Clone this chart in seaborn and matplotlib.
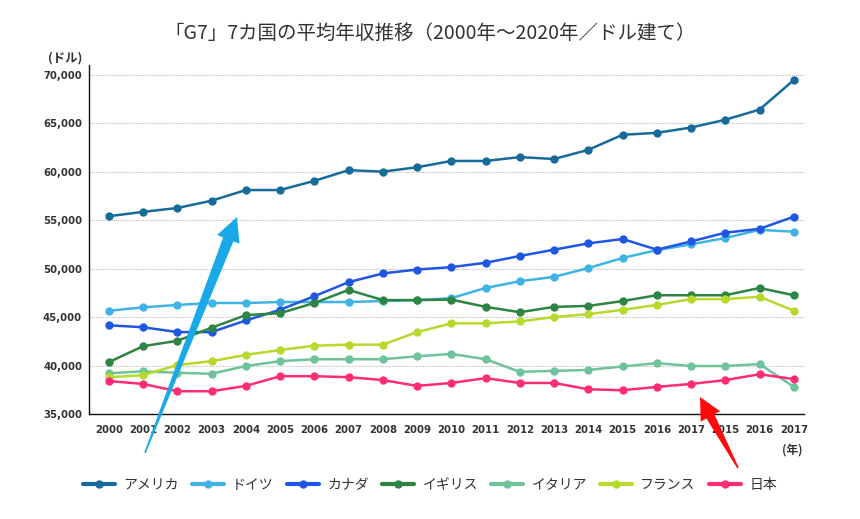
import numpy as np
import pandas as pd
import matplotlib
matplotlib.use("Agg")
import matplotlib.pyplot as plt
from matplotlib.lines import Line2D
from matplotlib.patches import Polygon
import seaborn as sns

# x-axis labels as shown in the source chart (21 points)
year_labels = ["2000", "2001", "2002", "2003", "2004", "2005", "2006", "2007",
               "2008", "2009", "2010", "2011", "2012", "2013", "2014", "2015",
               "2016", "2017", "2015", "2016", "2017"]

countries = ["アメリカ", "ドイツ", "カナダ", "イギリス", "イタリア", "フランス", "日本"]

usa = [55400, 55850, 56250, 57000, 58100, 58100, 59050, 60150, 60000, 60450,
       61100, 61100, 61500, 61300, 62250, 63800, 64000, 64550, 65350, 66400, 69450]
germany = [45650, 46000, 46250, 46450, 46450, 46550, 46550, 46550, 46650, 46750,
           46950, 48000, 48700, 49150, 50050, 51100, 51900, 52500, 53150, 54000, 53800]
canada = [44150, 43950, 43450, 43450, 44650, 45750, 47150, 48600, 49500, 49900,
          50150, 50600, 51300, 51950, 52600, 53050, 51950, 52800, 53700, 54100, 55350]
uk = [40350, 42000, 42550, 43900, 45200, 45400, 46450, 47800, 46750, 46750,
      46800, 46050, 45500, 46050, 46150, 46650, 47250, 47250, 47250, 48000, 47250]
italy = [39200, 39400, 39250, 39150, 39950, 40450, 40650, 40650, 40650, 40950,
         41200, 40650, 39350, 39450, 39550, 39900, 40250, 39950, 39950, 40150, 37800]
france = [38800, 39000, 40050, 40450, 41100, 41600, 42050, 42150, 42150, 43450,
          44350, 44350, 44550, 45000, 45300, 45750, 46250, 46850, 46850, 47100, 45650]
japan = [38400, 38100, 37350, 37350, 37900, 38900, 38900, 38800, 38500, 37900,
         38200, 38700, 38200, 38200, 37550, 37450, 37800, 38100, 38500, 39100, 38600]

colors = ["#176b9b", "#3fb3e6", "#1f56e3", "#2d8443", "#6ec39b", "#b6d92b", "#ff2d77"]

series = [usa, germany, canada, uk, italy, france, japan]
frames = []
for name, vals in zip(countries, series):
    frames.append(pd.DataFrame({"pos": range(len(vals)), "value": vals, "country": name}))
df = pd.concat(frames, ignore_index=True)

W, H = 860, 519


def tapered_arrow(fig, tail, tip, shaft_w, head_w, head_len, color):
    """Draw a decorative arrow that widens from tail to head (pixel coords, y from top)."""
    t = np.array([tail[0], H - tail[1]], dtype=float)
    p = np.array([tip[0], H - tip[1]], dtype=float)
    u = (p - t) / np.linalg.norm(p - t)
    n = np.array([-u[1], u[0]])
    base = p - u * head_len
    pts = [t + n * 0.8, base + n * shaft_w / 2, base + n * head_w / 2, p,
           base - n * head_w / 2, base - n * shaft_w / 2, t - n * 0.8]
    pts = np.array(pts) / np.array([W, H])
    fig.add_artist(Polygon(pts, closed=True, facecolor=color, edgecolor="none",
                           transform=fig.transFigure, zorder=10))


sns.set_style("white")
plt.rcParams["font.family"] = ["Noto Sans CJK JP", "DejaVu Sans"]

fig = plt.figure(figsize=(W / 100, H / 100), dpi=100)
ax = fig.add_axes([0.1035, 0.2023, 0.8315, 0.6725])

palette = dict(zip(countries, colors))
sns.lineplot(data=df, x="pos", y="value", hue="country", hue_order=countries,
             palette=palette, marker="o", markersize=6, markeredgewidth=0,
             linewidth=1.8, legend=False, ax=ax)

ax.set_xlim(-0.58, 20.3)
ax.set_ylim(35000, 71000)
yticks = list(range(35000, 70001, 5000))
ax.set_yticks(yticks)
ax.set_yticklabels([f"{v:,}" for v in yticks], fontsize=7.3, fontweight="bold",
                   color="#333333", family="DejaVu Sans")
ax.set_xticks(range(len(year_labels)))
ax.set_xticklabels(year_labels, fontsize=7.3, fontweight="bold", color="#333333",
                   family="DejaVu Sans")
ax.tick_params(axis="y", length=0, pad=5)
ax.tick_params(axis="x", length=0, pad=8)
ax.set_xlabel("")
ax.set_ylabel("")

for v in yticks[1:]:
    ax.axhline(v, color="#bbbbbb", linewidth=0.8, linestyle=(0, (1, 1)), zorder=0)

for side in ["top", "right"]:
    ax.spines[side].set_visible(False)
for side in ["left", "bottom"]:
    ax.spines[side].set_color("#111111")
    ax.spines[side].set_linewidth(1.0)

fig.text(0.5, 0.936, "「G7」7カ国の平均年収推移（2000年〜2020年／ドル建て）",
         ha="center", va="center", fontsize=14, color="#333333")
fig.text(0.0756, 0.888, "(ドル)", ha="center", va="center", fontsize=9,
         fontweight="bold", color="#333333")
fig.text(0.921, 0.133, "(年)", ha="center", va="center", fontsize=8.5,
         fontweight="bold", color="#333333")

handles = [Line2D([0], [0], color=c, linewidth=3, marker="o", markersize=6,
                  markeredgewidth=0) for c in colors]
fig.legend(handles, countries, loc="center", bbox_to_anchor=(0.5, 0.066),
           ncol=7, frameon=False, fontsize=10, handlelength=2.3,
           columnspacing=0.95, handletextpad=0.6, labelcolor="#333333")

# decorative arrows from the original picture
tapered_arrow(fig, (145, 453), (237, 217), 11, 24, 24, "#18a9e6")
tapered_arrow(fig, (738, 468), (700, 397), 9, 22, 22, "#ff0a0a")

fig.savefig("out.png", dpi=100)
